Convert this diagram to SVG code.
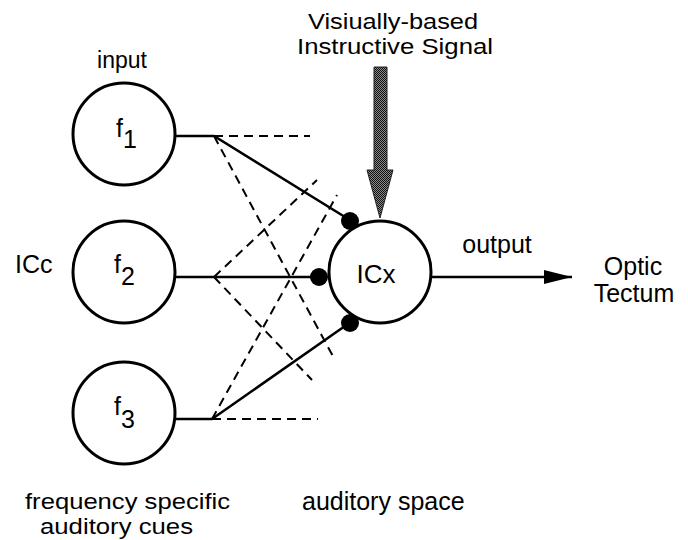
<svg xmlns="http://www.w3.org/2000/svg" width="688" height="540" viewBox="0 0 688 540">
<style>
text{font-family:"Liberation Sans",Arial,Helvetica,sans-serif;fill:#000;}
.lbl{font-size:25px;}
.tight{font-size:22px;}
.node{fill:#fff;stroke:#000;stroke-width:3;}
.solid{fill:none;stroke:#000;stroke-width:2.5;}
.dash{fill:none;stroke:#000;stroke-width:2;stroke-dasharray:9 6;}
.dot{fill:#000;}
</style>
<defs>
<pattern id="stip" width="2" height="2" patternUnits="userSpaceOnUse">
<rect width="2" height="2" fill="#8a8a8a"/>
<rect width="1" height="1" fill="#111"/>
<rect x="1" y="1" width="1" height="1" fill="#111"/>
</pattern>
<marker id="ah" viewBox="0 0 28 14" refX="28" refY="7" markerWidth="28" markerHeight="14" markerUnits="userSpaceOnUse" orient="auto">
<path d="M0,0 L28,7 L0,14 Z" fill="#000"/>
</marker>
</defs>
<rect width="688" height="540" fill="#fff"/>

<g id="connectors">
<path class="dash" d="M214,136 L310,136"/>
<path class="dash" d="M214,136 L335,360"/>
<path class="dash" d="M214,277 L317,180"/>
<path class="dash" d="M214,277 L312,380"/>
<path class="dash" d="M212,419 L318,419"/>
<path class="dash" d="M212,419 L337,195"/>
<path class="solid" d="M175,136 L214,136 L345,217"/>
<path class="solid" d="M175,277 L315,277"/>
<path class="solid" d="M175,419 L212,419 L345,326"/>
<path class="solid" d="M431,277 L572,277" marker-end="url(#ah)"/>
<circle class="dot" cx="350" cy="221" r="9"/>
<circle class="dot" cx="319" cy="277" r="9"/>
<circle class="dot" cx="350" cy="323" r="9"/>
</g>

<g id="instructive-signal">
<path d="M374,67 L387,67 L387,170 L393,170 L380,218 L367,170 L374,170 Z" fill="url(#stip)" stroke="#222" stroke-width="1"/>
<text class="tight" x="308" y="29" textLength="170" lengthAdjust="spacingAndGlyphs">Visiually-based</text>
<text class="tight" x="297" y="54" textLength="196" lengthAdjust="spacingAndGlyphs">Instructive Signal</text>
</g>

<g id="f1">
<circle class="node" cx="124" cy="134" r="51"/>
<text class="lbl" x="116" y="137">f<tspan dy="11">1</tspan></text>
</g>
<g id="f2">
<circle class="node" cx="124" cy="272" r="51"/>
<text class="lbl" x="114" y="273">f<tspan dy="12">2</tspan></text>
</g>
<g id="f3">
<circle class="node" cx="124" cy="413" r="51"/>
<text class="lbl" x="114" y="415">f<tspan dy="13">3</tspan></text>
</g>
<g id="icx">
<circle class="node" cx="380" cy="272" r="51"/>
<text x="376" y="283" text-anchor="middle" style="font-size:26px">ICx</text>
</g>

<g id="labels">
<text x="122" y="68" text-anchor="middle" style="font-size:23px">input</text>
<text class="lbl" x="15" y="273">ICc</text>
<text class="lbl" x="497" y="253" text-anchor="middle">output</text>
<text class="lbl" x="633" y="275" text-anchor="middle">Optic</text>
<text class="lbl" x="634" y="302" text-anchor="middle">Tectum</text>
<text class="tight" x="25" y="509" textLength="205" lengthAdjust="spacingAndGlyphs">frequency specific</text>
<text class="tight" x="40" y="534" textLength="153" lengthAdjust="spacingAndGlyphs">auditory cues</text>
<text class="lbl" x="302" y="510">auditory space</text>
</g>
</svg>
